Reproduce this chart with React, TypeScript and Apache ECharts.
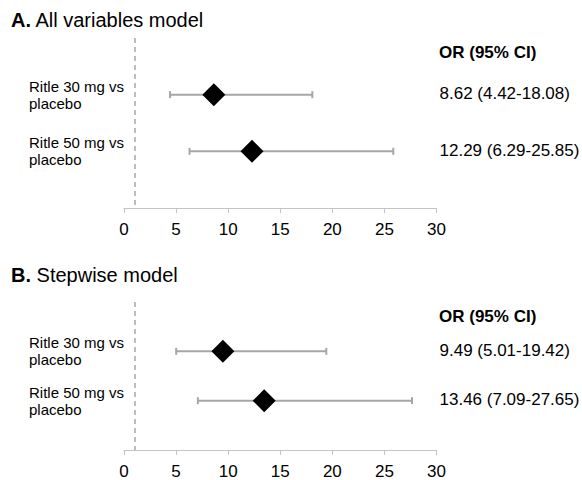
import React, { useEffect, useRef } from "react";
import * as echarts from "echarts";

const rowLabels = ["Ritle 30 mg vs\nplacebo", "Ritle 50 mg vs\nplacebo"];
const panelTitles = [
  ["A.", "All variables model"],
  ["B.", "Stepwise model"],
];
const orA = [8.62, 12.29];
const lowA = [4.42, 6.29];
const highA = [18.08, 25.85];
const orB = [9.49, 13.46];
const lowB = [5.01, 7.09];
const highB = [19.42, 27.65];
const xTicksMin = 0;
const xTicksMax = 30;
const xTickStep = 5;
const refLine = 1;
const headerText = "OR (95% CI)";

const FONT = "'Liberation Sans', Arial, Helvetica, sans-serif";

const fmt = (o: number, l: number, h: number) =>
  `${o.toFixed(2)} (${l.toFixed(2)}-${h.toFixed(2)})`;

export default function App() {
  const ref = useRef<HTMLDivElement>(null);
  useEffect(() => {
    if (!ref.current) return;
    const chart = echarts.init(ref.current, null, { renderer: "svg" });

    const panels = [
      { or: orA, lo: lowA, hi: highA, top: 38, height: 170, titleY: 20 },
      { or: orB, lo: lowB, hi: highB, top: 302, height: 152, titleY: 275 },
    ];

    const grids: any[] = [];
    const xAxes: any[] = [];
    const yAxes: any[] = [];
    const series: any[] = [];
    const graphics: any[] = [];

    panels.forEach((p, i) => {
      grids.push({ left: 124, width: 312.5, top: p.top, height: p.height });
      xAxes.push({
        type: "value",
        gridIndex: i,
        min: xTicksMin,
        max: xTicksMax,
        interval: xTickStep,
        splitLine: { show: false },
        axisLine: { show: true, lineStyle: { color: "#c4c4c4", width: 1 } },
        axisTick: { show: true, length: 5, lineStyle: { color: "#c4c4c4" } },
        axisLabel: { color: "#000", fontSize: 17, fontFamily: FONT, margin: 13 },
      });
      const cats = ["", ...rowLabels, ""];
      yAxes.push({
        type: "category",
        gridIndex: i,
        data: cats,
        inverse: true,
        boundaryGap: false,
        position: "left",
        axisLine: { show: false },
        axisTick: { show: false },
        splitLine: { show: false },
        axisLabel: {
          align: "left",
          margin: 95,
          color: "#000",
          fontSize: 15,
          lineHeight: 17,
          padding: [0, 0, 6, 0],
          fontFamily: FONT,
          interval: 0,
        },
      });

      const barData = p.or.map((_, k) => [p.lo[k], p.hi[k], k + 1]);
      series.push({
        type: "custom",
        xAxisIndex: i,
        yAxisIndex: i,
        z: 2,
        data: barData,
        encode: { x: [0, 1], y: 2 },
        renderItem: (params: any, api: any) => {
          const y = api.value(2);
          const a = api.coord([api.value(0), y]);
          const b = api.coord([api.value(1), y]);
          const style = { stroke: "#a6a6a6", lineWidth: 2 };
          const capH = 3.5;
          return {
            type: "group",
            children: [
              { type: "line", shape: { x1: a[0], y1: a[1], x2: b[0], y2: b[1] }, style },
              { type: "line", shape: { x1: a[0], y1: a[1] - capH, x2: a[0], y2: a[1] + capH }, style },
              { type: "line", shape: { x1: b[0], y1: b[1] - capH, x2: b[0], y2: b[1] + capH }, style },
            ],
          };
        },
      });
      series.push({
        type: "scatter",
        xAxisIndex: i,
        yAxisIndex: i,
        z: 3,
        symbol: "diamond",
        symbolSize: [23, 23],
        itemStyle: { color: "#000", opacity: 1 },
        data: p.or.map((o, k) => [o, k + 1]),
        markLine: {
          silent: true,
          symbol: "none",
          label: { show: false },
          lineStyle: { type: [5, 4], color: "#a6a6a6", width: 1.5 },
          data: [{ xAxis: refLine }],
        },
      });

      graphics.push({
        type: "text",
        x: 11,
        y: p.titleY,
        style: {
          text: `{b|${panelTitles[i][0]}} ${panelTitles[i][1]}`,
          fontSize: 20,
          fontFamily: FONT,
          fill: "#000",
          verticalAlign: "middle",
          rich: { b: { fontWeight: "bold", fontSize: 20, fontFamily: FONT } },
        },
      });
      graphics.push({
        type: "text",
        x: 439,
        y: p.top + 14,
        style: {
          text: headerText,
          fontSize: 17,
          fontWeight: "bold",
          fontFamily: FONT,
          fill: "#000",
          verticalAlign: "middle",
        },
      });
    });

    chart.setOption({
      animation: false,
      backgroundColor: "#fff",
      grid: grids,
      xAxis: xAxes,
      yAxis: yAxes,
      series,
      graphic: graphics,
    });

    // CI text column, placed through the chart's own scales
    const ciGraphics: any[] = [];
    panels.forEach((p, i) => {
      p.or.forEach((o, k) => {
        const pt = chart.convertToPixel({ gridIndex: i } as any, [xTicksMax, k + 1]) as number[];
        ciGraphics.push({
          type: "text",
          x: pt[0] + 3,
          y: pt[1] - 1,
          style: {
            text: fmt(o, p.lo[k], p.hi[k]),
            fontSize: 17,
            fontFamily: FONT,
            fill: "#000",
            verticalAlign: "middle",
          },
        });
      });
    });
    chart.setOption({ graphic: [...graphics, ...ciGraphics] });

    return () => chart.dispose();
  }, []);
  return (
    <div
      ref={ref}
      style={{ position: "absolute", left: 0, top: 0, width: 582, height: 480 }}
    />
  );
}
